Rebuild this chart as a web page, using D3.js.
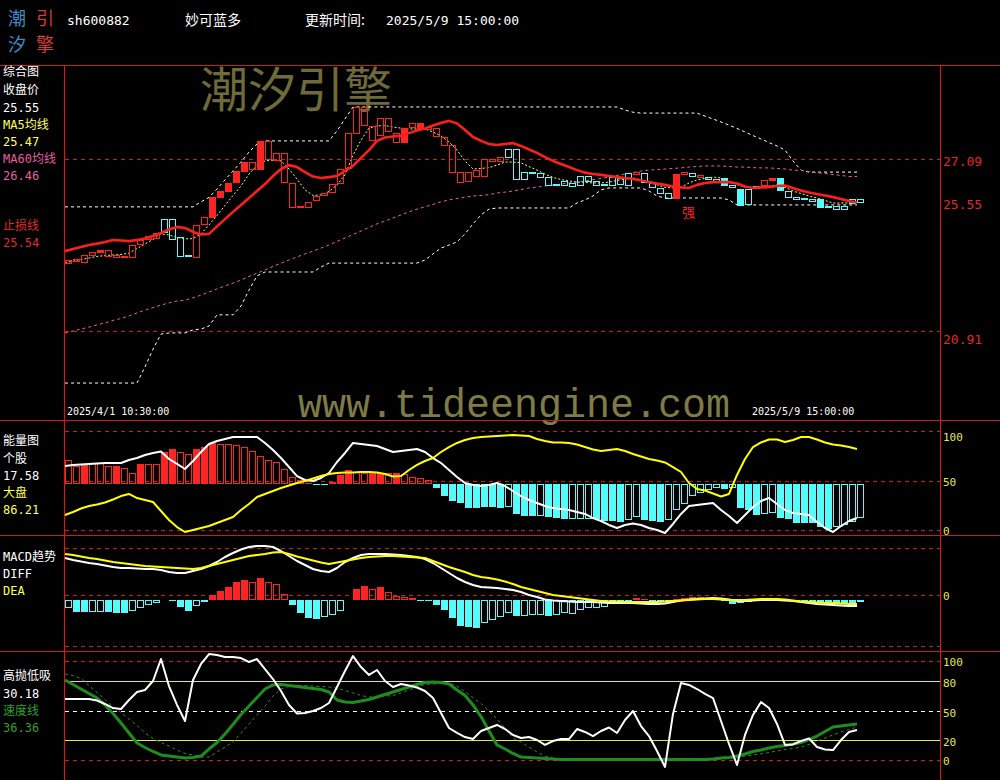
<!DOCTYPE html>
<html><head><meta charset="utf-8">
<script src="https://cdn.jsdelivr.net/npm/d3@7"></script>
<style>html,body{margin:0;padding:0;background:#000;overflow:hidden}</style>
</head><body>
<script>
// ================= DATA =================
const N = 100;
const stockCode = "sh600882", stockName = "妙可蓝多", updateTime = "2025/5/9 15:00:00";
const startLabel = "2025/4/1 10:30:00", endLabel = "2025/5/9 15:00:00";
const priceTicks = [27.09, 20.91];
const lastClose = 25.55, lastMA5 = 25.47, lastMA60 = 26.46, lastStop = 25.54;
const energyStockLast = 17.58, energyMarketLast = 86.21;
const hlLast = 30.18, speedLast = 36.36;

// candle body: open / close, type R=red hollow r=red solid C=cyan hollow c=cyan solid
const open = [23.35,23.43,23.39,23.64,23.75,23.60,23.57,23.57,23.57,24.04,
 24.22,24.25,24.93,24.93,24.29,23.64,23.57,24.76,25.01,25.72,
 25.94,26.26,26.66,26.73,26.73,27.09,27.05,26.26,25.37,25.37,
 25.37,25.62,25.80,25.90,26.23,26.77,28.02,28.31,27.77,27.95,
 28.09,27.70,27.70,28.24,28.17,28.17,27.92,27.59,26.62,26.26,
 26.30,26.48,26.48,27.02,27.02,27.45,27.45,26.62,26.62,26.59,
 26.44,26.19,26.30,26.23,26.48,26.48,26.30,26.19,26.44,26.41,
 26.59,26.55,26.59,26.23,26.05,25.87,25.69,26.55,26.59,26.44,
 26.44,26.37,26.41,26.16,26.01,26.01,26.12,26.16,26.34,26.41,
 25.94,25.72,25.69,25.65,25.65,25.40,25.40,25.40,25.65,25.65];
const close = [23.46,23.50,23.64,23.75,23.82,23.82,23.64,23.60,24.00,24.18,
 24.32,24.43,24.47,24.22,23.60,23.60,24.72,25.01,25.72,25.94,
 26.23,26.66,26.98,26.98,27.74,27.74,27.31,27.31,26.23,25.40,
 25.55,25.76,25.87,26.19,26.73,28.02,28.96,28.96,28.27,28.56,
 28.56,28.02,28.20,28.38,28.38,28.24,28.20,27.88,27.59,26.62,
 26.62,26.69,27.09,27.09,27.16,27.16,26.37,26.37,26.59,26.44,
 26.16,26.16,26.16,26.12,26.16,26.30,26.16,26.16,26.16,26.19,
 26.16,26.62,26.26,26.08,25.87,25.69,26.55,26.62,26.48,26.52,
 26.37,26.30,26.16,26.08,25.44,25.47,26.05,26.34,26.41,25.98,
 25.72,25.65,25.65,25.58,25.37,25.37,25.29,25.29,25.51,25.55];
const candleType = "RRRRrRRRRR"+"RRCCCCRRrr"+"rrrRrRRRRR"+"RRRRRRRRRR"+"RRrRrRRRRR"+
                   "RRRRRCCCCC"+"CCCCCCCCCC"+"CRCCCCrRCR"+"CCcCcCCRrc"+"CCCCcCCCCC";

const stopLine = [23.78,23.86,23.93,24.00,24.05,24.11,24.18,24.16,24.14,24.18,
 24.23,24.32,24.43,24.56,24.65,24.61,24.47,24.38,24.40,24.67,
 24.93,25.19,25.44,25.69,25.94,26.19,26.48,26.73,26.87,26.80,
 26.62,26.46,26.41,26.44,26.48,26.66,26.84,27.13,27.41,27.74,
 27.86,27.90,27.93,28.02,28.11,28.19,28.29,28.38,28.46,28.37,
 28.13,27.88,27.74,27.63,27.59,27.63,27.66,27.56,27.43,27.31,
 27.16,27.02,26.91,26.80,26.69,26.60,26.55,26.52,26.48,26.44,
 26.41,26.37,26.32,26.26,26.21,26.16,26.10,26.07,26.05,26.16,
 26.23,26.26,26.26,26.26,26.21,26.10,26.05,26.07,26.08,26.12,
 26.14,26.05,25.96,25.89,25.83,25.78,25.72,25.65,25.58,25.53];
const ma5 = [23.35,23.43,23.48,23.53,23.59,23.62,23.64,23.66,23.71,23.87,
 24.04,24.20,24.40,24.36,24.27,24.22,24.23,24.40,24.72,25.06,
 25.42,25.78,26.12,26.55,26.86,27.02,27.05,27.02,26.73,26.37,
 25.98,25.78,25.80,25.92,26.16,26.52,27.23,27.77,28.20,28.28,
 28.29,28.24,28.20,28.17,28.17,28.17,28.06,27.92,27.70,27.41,
 27.02,26.73,26.75,26.78,26.87,26.98,26.98,26.95,26.82,26.69,
 26.55,26.43,26.35,26.30,26.26,26.25,26.23,26.23,26.26,26.32,
 26.37,26.41,26.34,26.26,26.16,26.07,26.05,26.08,26.23,26.34,
 26.39,26.44,26.41,26.30,26.17,26.08,26.07,26.08,26.12,26.16,
 26.07,25.94,25.85,25.76,25.69,25.60,25.51,25.51,25.51,25.47];
const ma60 = [20.84,20.91,20.98,21.05,21.13,21.20,21.29,21.36,21.45,21.56,
 21.66,21.75,21.84,21.92,21.99,22.02,22.10,22.20,22.31,22.42,
 22.53,22.63,22.74,22.87,22.99,23.10,23.23,23.35,23.46,23.57,
 23.68,23.78,23.89,24.00,24.13,24.25,24.38,24.50,24.63,24.76,
 24.86,24.97,25.08,25.19,25.29,25.37,25.46,25.55,25.62,25.67,
 25.72,25.76,25.78,25.81,25.87,25.90,25.94,25.99,26.05,26.08,
 26.12,26.16,26.19,26.23,26.26,26.30,26.35,26.39,26.44,26.50,
 26.55,26.60,26.66,26.69,26.71,26.73,26.75,26.77,26.80,26.82,
 26.84,26.84,26.84,26.82,26.80,26.80,26.78,26.77,26.77,26.75,
 26.73,26.69,26.68,26.64,26.60,26.57,26.53,26.50,26.46,26.46];
const bandUp = [25.37,25.37,25.37,25.37,25.37,25.37,25.37,25.37,25.37,25.37,
 25.37,25.37,25.37,25.37,25.37,25.37,25.37,25.55,25.71,26.01,
 26.34,26.66,26.98,27.34,27.63,27.74,27.74,27.74,27.74,27.74,
 27.74,27.74,27.74,27.74,28.10,28.53,28.96,28.96,28.96,28.96,
 28.96,28.96,28.96,28.96,28.96,28.96,28.96,28.96,28.96,28.96,
 28.96,28.96,28.96,28.96,28.96,28.96,28.96,28.96,28.96,28.96,
 28.96,28.96,28.96,28.96,28.96,28.96,28.96,28.96,28.96,28.96,
 28.85,28.77,28.74,28.74,28.74,28.74,28.74,28.74,28.74,28.74,
 28.63,28.53,28.42,28.31,28.19,28.06,27.93,27.81,27.68,27.56,
 27.41,27.02,26.69,26.62,26.62,26.62,26.62,26.62,26.62,26.62];
const bandDn = [19.04,19.04,19.04,19.04,19.04,19.04,19.04,19.04,19.04,19.04,
 19.62,20.26,20.80,20.84,20.84,20.84,20.95,20.98,21.09,21.49,
 21.49,21.49,21.81,22.38,22.89,23.03,23.03,23.03,23.03,23.03,
 23.03,23.03,23.21,23.35,23.35,23.35,23.35,23.35,23.35,23.35,
 23.35,23.35,23.35,23.35,23.35,23.46,23.68,23.89,24.00,24.11,
 24.40,24.76,25.08,25.29,25.33,25.33,25.33,25.33,25.33,25.33,
 25.33,25.33,25.33,25.33,25.51,25.62,25.76,25.98,26.05,26.05,
 26.05,26.05,26.05,25.94,25.76,25.69,25.69,25.69,25.69,25.69,
 25.69,25.69,25.69,25.62,25.44,25.44,25.44,25.44,25.44,25.44,
 25.44,25.44,25.44,25.44,25.44,25.44,25.44,25.44,25.44,25.44];

// energy panel (0-100 scale), bars signed around a base level
const energyTicks = [100, 50, 0];
const energyBase = 46;
const energyBar = [24.7,18.7,19.7,21.7,21.7,18.7,18.7,16.7,11.6,20.7,
 20.7,20.7,32.8,35.9,32.8,30.8,35.9,37.9,41.9,40.9,
 40.9,39.9,37.9,33.8,28.8,24.7,22.7,15.7,7.6,4.5,
 1.5,-1,-1,2.5,9.6,14.6,12.6,11.6,12.6,11.6,
 11.6,11.6,10.6,7.6,6.6,4.5,-3.5,-11.6,-16.7,-18.7,
 -23.7,-23.7,-23.2,-22.7,-23.7,-22.7,-29.8,-31.8,-31.8,-31.8,
 -32.8,-33.8,-34.8,-34.8,-34.8,-34.8,-34.8,-36.9,-36.9,-37.9,
 -35.9,-32.8,-35.9,-36.9,-37.9,-35.9,-25.8,-19.7,-11.6,-8.6,
 -5.6,-3.5,-4.5,-3.5,-23.7,-25.8,-30.8,-29.8,-28.8,-33.8,
 -34.8,-38.9,-38.9,-38.9,-42.9,-44.9,-42.9,-40.9,-37.9,-33.8];
const energyFill = "HHSHHHSHHS"+"HHSSHHSSSH"+"HHHHHHHHHH"+"SSSSSSHHSS"+"HSHHHHSSSS"+
                   "SSSSSHSSSH"+"SSSHHHSSSS"+"HHSSSHHHHH"+"HHSHSSSHHS"+"SSSSSSHHHH";
const energyStock = [64.6,65.7,66.2,66.7,67.2,67.7,67.7,67.7,70.7,72.7,
 75.8,77.8,79.3,71.7,66.7,61.6,69.7,78.8,86.9,89.9,
 91.9,93.9,93.9,93.9,93.9,87.9,80.8,72.7,63.6,54.5,
 50.5,49.5,52.5,57.6,68.7,77.8,87.9,86.9,85.9,84.8,
 81.8,78.8,79.8,80.8,81.8,78.8,72.7,67.7,60.6,53.5,
 47.5,45.5,44.4,45.5,47.5,44.4,39.4,34.3,30.3,27.3,
 24.2,22.2,21.2,20.2,18.2,16.2,12.1,9.1,5.1,2.0,
 5.1,6.6,5.1,2.0,0,-3,6.1,16.2,24.2,25.3,
 26.3,27.3,20.2,14.1,7.1,15.2,23.2,29.3,32.3,26.3,
 20.2,17.2,16.2,15.2,8.1,2.0,-2,4.0,9.1,12.1];
const energyMarket = [15.2,18.2,21.7,24.2,25.8,27.8,30.8,34.3,36.4,32.3,
 30.3,28.3,19.2,10.1,3.0,-2.0,0,2.0,4.0,7.1,
 10.1,13.1,20.2,26.3,33.3,36.4,39.4,42.4,44.9,47.5,
 49.5,52.0,54.5,56.6,57.6,58.1,58.1,58.6,58.6,58.1,
 56.6,54.0,54.5,60.6,65.7,69.7,72.7,78.8,83.8,87.9,
 90.9,92.9,93.9,94.4,94.9,95.4,96.0,95.4,94.9,91.9,
 89.9,88.4,88.4,87.9,86.4,83.8,81.3,79.8,80.8,81.8,
 79.8,76.8,74.2,71.7,70.2,68.2,63.6,58.6,47.5,41.4,
 39.9,36.9,33.8,36.4,55.6,71.7,83.8,88.4,91.4,91.4,
 88.9,90.9,93.9,93.9,91.4,88.4,86.4,85.3,83.8,81.8];

// MACD panel
const macdHist = [-0.16,-0.24,-0.24,-0.24,-0.24,-0.24,-0.26,-0.26,-0.22,-0.16,
 -0.10,-0.06,0,-0.02,-0.14,-0.22,-0.12,-0.04,0.10,0.18,
 0.26,0.36,0.40,0.36,0.44,0.36,0.32,0.12,-0.10,-0.26,
 -0.36,-0.38,-0.34,-0.30,-0.22,0,0.22,0.28,0.22,0.26,
 0.16,0.08,0.06,0.04,-0.01,-0.02,-0.10,-0.20,-0.36,-0.52,
 -0.54,-0.56,-0.46,-0.40,-0.34,-0.26,-0.32,-0.32,-0.30,-0.30,
 -0.32,-0.30,-0.26,-0.28,-0.20,-0.16,-0.16,-0.14,-0.06,-0.04,
 -0.02,0.04,0.02,-0.03,-0.03,-0.02,0.03,0.05,0.06,0.06,
 0.05,0.04,-0.02,-0.08,-0.05,-0.03,-0.02,-0.02,-0.02,-0.02,
 -0.01,-0.01,-0.02,-0.03,-0.04,-0.06,-0.06,-0.06,-0.05,-0.04];
const macdFill = "HSSHHSSSHH"+"HHSSSSHSSS"+"SSSHSHHHSS"+"SSHHHSSSHS"+"HHHSSSSSSS"+
                 "SSHHHHSHHH"+"SHHHHHHHSS"+"SSSSSSSSSS"+"SSSSSSSSSS"+"SSSSSSSSSS";
const diff = [0.84,0.80,0.77,0.74,0.72,0.69,0.66,0.64,0.64,0.63,
 0.62,0.62,0.60,0.56,0.54,0.54,0.58,0.62,0.68,0.76,
 0.86,0.94,1.01,1.06,1.08,1.08,1.06,0.98,0.88,0.78,
 0.70,0.62,0.58,0.56,0.64,0.76,0.84,0.90,0.92,0.92,
 0.92,0.91,0.90,0.88,0.86,0.82,0.74,0.64,0.54,0.44,
 0.36,0.30,0.26,0.25,0.24,0.22,0.20,0.16,0.10,0.06,
 0.01,-0.01,-0.02,-0.03,-0.04,-0.04,-0.04,-0.05,-0.06,-0.06,
 -0.06,-0.06,-0.07,-0.08,-0.08,-0.07,-0.04,-0.01,0.01,0.02,
 0.03,0.04,0.03,0.01,-0.02,-0.02,-0.01,0,0,0,
 -0.01,-0.02,-0.04,-0.06,-0.08,-0.09,-0.10,-0.11,-0.12,-0.12];
const dea = [0.92,0.90,0.87,0.84,0.82,0.79,0.76,0.74,0.72,0.70,
 0.68,0.67,0.66,0.65,0.64,0.63,0.62,0.64,0.68,0.72,
 0.76,0.80,0.84,0.88,0.90,0.92,0.95,0.96,0.92,0.87,
 0.83,0.79,0.75,0.72,0.75,0.78,0.81,0.84,0.86,0.87,
 0.88,0.88,0.87,0.86,0.85,0.84,0.78,0.72,0.66,0.61,
 0.56,0.50,0.46,0.44,0.41,0.37,0.32,0.26,0.22,0.18,
 0.14,0.10,0.08,0.06,0.04,0.02,0,-0.02,-0.03,-0.03,
 -0.04,-0.04,-0.04,-0.04,-0.04,-0.03,-0.02,-0.01,0,0.01,
 0.02,0.02,0.01,0,0,0,0.01,0.02,0.02,0.02,
 0.01,-0.01,-0.03,-0.04,-0.05,-0.06,-0.06,-0.07,-0.08,-0.08];

// 高抛低吸 panel (0-100)
const hlTicks = [100, 80, 50, 20, 0];
const hlWhite = [61.6,61.6,61.6,61.6,60.1,56.6,52.5,51.5,60.6,68.7,
 70.7,79.8,102,74.7,55.6,39.4,80.8,97,107,106,
 104,104,103,99,102,91.9,81.8,69.7,55.6,47,
 47.5,49.5,52.5,57.6,73.7,89.9,105,93.9,85.9,90.9,
 79.8,73.7,76.8,75.2,73.2,69.7,62.6,47.5,32.3,27.3,
 23.2,21.2,29.3,32.3,35.4,31.3,25.3,22.2,23.2,20.2,
 15.2,19.2,21.2,21.2,31.3,28.3,24.2,29.3,32.8,27.3,
 40.4,49.5,34.3,24.2,9.1,-7,46.5,77.8,75.8,71.7,
 66.7,62.6,39.4,16.2,-5,25.3,45.5,58.6,52.5,36.4,
 15.2,15.7,19.2,21.7,13.1,10.6,10.1,20.2,28.3,30.3];
const hlSpeed = [80.8,76.3,71.7,67.2,62.6,55.6,47.0,37.4,27.3,17.2,
 12.6,8.6,5.1,4.0,3.0,2.0,2.5,4.0,11.1,17.7,
 26.3,35.9,46.0,54.5,63.1,71.7,75.8,76.3,75.3,74.2,
 73.2,72.2,71.2,68.7,60.6,58.6,58.1,59.6,61.1,63.6,
 66.2,68.7,71.2,73.7,76.3,78.3,78.8,78.3,76.8,70.7,
 65.1,55.6,43.9,29.3,15.2,11.1,6.6,3.0,2.5,2.0,
 1.5,1.0,0.5,0.5,0.5,0.5,0.5,0.5,0.5,0.5,
 0.5,0.5,0.5,0.5,0.5,0.5,0.5,0.5,0.5,0.5,
 0.5,1.0,2.0,2.5,4.0,6.1,8.6,10.1,12.1,13.6,
 14.6,16.2,17.7,20.7,24.2,28.8,33.3,34.3,35.4,36.4];
const hlSlow = [86.9,85.3,82.3,75.2,68.2,61.1,53.5,48.0,41.4,34.8,
 27.3,21.7,17.7,14.1,10.1,6.6,5.1,3.0,3.0,8.1,
 13.1,18.2,27.3,36.4,45.5,54.5,64.6,71.7,74.2,75.2,
 75.2,74.7,74.2,73.7,72.7,70.2,67.7,65.1,63.6,64.1,
 64.6,65.1,67.7,70.7,73.7,76.3,76.8,77.3,77.8,74.7,
 68.7,63.1,57.1,49.5,41.4,32.3,22.2,18.2,13.1,8.1,
 4.0,2.0,0.5,0.5,0.5,0.5,0.5,0.5,0.5,0.5,
 0.5,0.5,0.5,0.5,0.5,0.5,0.5,0.5,0.5,0.5,
 0.5,0.5,1.0,1.5,2.5,4.0,5.1,6.1,7.6,9.1,
 10.6,11.6,13.1,15.7,19.2,22.2,25.3,28.3,30.8,33.3];

// ================= DRAW =================
const RED = "#ff2424", CYAN = "#54fcfc", YEL = "#ffff54", WHITE = "#ffffff",
      GRID = "#c81e1e", FRAME = "#c81e1e", PINK = "#e65fa0";
const MONO = '"DejaVu Sans Mono","Liberation Mono",monospace';
const CJK = '"Noto Sans CJK SC","DejaVu Sans",sans-serif';

const svg = d3.select("body").append("svg").attr("width", 1000).attr("height", 780);
svg.append("rect").attr("width", 1000).attr("height", 780).attr("fill", "#000");

const x = d3.scaleBand().domain(d3.range(N)).range([64.2, 864.2]).paddingInner(0.2).paddingOuter(0.1);
const lx = i => x(i);                 // line vertices sit at bar left edge
const yP = d3.scaleLinear().domain([20.91, 27.09]).range([331, 159]);
const yE = d3.scaleLinear().domain([0, 100]).range([530, 431]);
const yM = d3.scaleLinear().domain([-1, 1]).range([650, 550]);
const yH = d3.scaleLinear().domain([0, 100]).range([760, 661]);

function text(g, x0, y0, s, color, size, family, extra) {
  const t = g.append("text").attr("x", x0).attr("y", y0).attr("fill", color)
    .attr("font-size", size).attr("font-family", family).attr("dominant-baseline", "central").text(s);
  if (extra) extra(t);
  return t;
}

// watermarks (behind)
const wm = svg.append("g");
text(wm, 200, 86, "潮汐引擎", "#6e6a3a", 48, CJK);
text(wm, 298, 406, "www.tideengine.com", "#7f7b45", 40, '"Liberation Mono","DejaVu Sans Mono",monospace');

// frame
const fr = svg.append("g").attr("stroke", FRAME).attr("stroke-width", 1.2);
[65.5, 420.5, 535.5, 651.5].forEach(yy => fr.append("line").attr("x1", 0).attr("x2", 1000).attr("y1", yy).attr("y2", yy));
[64.5, 940.5].forEach(xx => fr.append("line").attr("x1", xx).attr("x2", xx).attr("y1", 65).attr("y2", 780));

function hline(yy, color, dash, w) {
  svg.append("line").attr("x1", 65).attr("x2", 940).attr("y1", Math.round(yy) + 0.5).attr("y2", Math.round(yy) + 0.5)
    .attr("stroke", color).attr("stroke-width", w || 1).attr("stroke-dasharray", dash || null);
}
// grids
priceTicks.forEach(p => hline(yP(p), GRID, "4,4"));
energyTicks.forEach(v => hline(yE(v), GRID, "4,4"));
[548, 595, 646].forEach(yy => hline(yy, GRID, "4,4"));
hlTicks.forEach(v => {
  if (v === 100 || v === 0) hline(yH(v), GRID, "4,4");
  else if (v === 50) hline(yH(v), WHITE, "4,4");
  else hline(yH(v), "#e6e65a", null, 1);
});

function path(data, ys, color, width, dash) {
  const ln = d3.line().defined(d => d != null).x((d, i) => lx(i)).y(d => ys(d));
  svg.append("path").attr("d", ln(data)).attr("fill", "none").attr("stroke", color)
    .attr("stroke-width", width).attr("stroke-dasharray", dash || null).attr("stroke-linejoin", "round");
}
// dashed reference lines under the candles
path(bandUp, yP, WHITE, 1, "3,3");
path(bandDn, yP, WHITE, 1, "3,3");
path(ma60, yP, PINK, 1, "3,3");
path(ma5, yP, YEL, 1, "2,2");

// candles
const cg = svg.append("g").attr("shape-rendering", "crispEdges");
d3.range(N).forEach(i => {
  const t = candleType[i], red = (t === "R" || t === "r"), solid = (t === "r" || t === "c");
  const col = red ? RED : CYAN;
  const top = Math.round(yP(Math.max(open[i], close[i]))), bot = Math.round(yP(Math.min(open[i], close[i])));
  const xl = Math.floor(x(i));
  if (solid || bot - top < 2) {
    cg.append("rect").attr("x", xl).attr("y", top).attr("width", 7)
      .attr("height", Math.max(1, bot - top + 1)).attr("fill", col);
  } else {
    cg.append("rect").attr("x", xl).attr("y", top).attr("width", 7).attr("height", 1).attr("fill", col);
    cg.append("rect").attr("x", xl).attr("y", bot).attr("width", 7).attr("height", 1).attr("fill", col);
    cg.append("rect").attr("x", xl).attr("y", top).attr("width", 1).attr("height", bot - top + 1).attr("fill", col);
    cg.append("rect").attr("x", xl + 6).attr("y", top).attr("width", 1).attr("height", bot - top + 1).attr("fill", col);
  }
});

path(stopLine, yP, "#ff1e1e", 2.6);

// "强" mark
text(svg, 682, 211, "强", RED, 13, CJK);

// bars helper
function bars(vals, fills, base, ys) {
  const g = svg.append("g").attr("shape-rendering", "crispEdges");
  vals.forEach((v, i) => {
    if (v === 0) return;
    const col = v > 0 ? RED : CYAN, solid = fills[i] === "S";
    const a = Math.round(ys(base)), b = Math.round(ys(base + v));
    const top = Math.min(a, b), bot = Math.max(a, b);
    const xl = Math.floor(x(i));
    if (solid || bot - top < 2) {
      g.append("rect").attr("x", xl).attr("y", top).attr("width", 7).attr("height", Math.max(1, bot - top)).attr("fill", col);
    } else {
      g.append("rect").attr("x", xl + 0.5).attr("y", top + 0.5).attr("width", 6).attr("height", bot - top - 1)
        .attr("fill", "none").attr("stroke", col);
    }
  });
}
bars(energyBar, energyFill, energyBase, yE);
path(energyStock, yE, WHITE, 2);
path(energyMarket, yE, "#ffff00", 2);

bars(macdHist, macdFill, 0, yM);
path(diff, yM, WHITE, 2);
path(dea, yM, "#ffff00", 2);

path(hlSlow, yH, "#2e8b2e", 1, "3,3");
path(hlSpeed, yH, "#1e8c1e", 3);
path(hlWhite, yH, WHITE, 2);

// date labels
text(svg, 67, 411, startLabel, WHITE, 10, MONO);
text(svg, 752, 411, endLabel, WHITE, 10, MONO);

// right labels
const rl = svg.append("g");
text(rl, 943, 161, priceTicks[0].toFixed(2), "#e02828", 13, MONO);
text(rl, 943, 204, lastClose.toFixed(2), "#e02828", 13, MONO);
text(rl, 943, 339, priceTicks[1].toFixed(2), "#e02828", 13, MONO);
[[100, 437], [50, 482], [0, 531]].forEach(([v, yy]) => text(rl, 943, yy, String(v), "#e6e650", 11, MONO));
text(rl, 943, 596, "0", "#e6e650", 11, MONO);
[[100, 662], [80, 683], [50, 713], [20, 742], [0, 761]].forEach(([v, yy]) => text(rl, 943, yy, String(v), "#e6e650", 11, MONO));

// left labels
const ll = svg.append("g");
const LF = '"DejaVu Sans Mono","Noto Sans CJK SC",monospace';
[["综合图", 72, WHITE], ["收盘价", 90, WHITE], [lastClose.toFixed(2), 108, WHITE],
 ["MA5均线", 125, YEL], [lastMA5.toFixed(2), 142, YEL],
 ["MA60均线", 159, PINK], [lastMA60.toFixed(2), 176, PINK],
 ["止损线", 226, "#e02828"], [lastStop.toFixed(2), 243, "#e02828"],
 ["能量图", 441, WHITE], ["个股", 459, WHITE], [energyStockLast.toFixed(2), 476, WHITE],
 ["大盘", 493, YEL], [energyMarketLast.toFixed(2), 510, YEL],
 ["MACD趋势", 557, WHITE], ["DIFF", 574, WHITE], ["DEA", 591, YEL],
 ["高抛低吸", 676, WHITE], [hlLast.toFixed(2), 694, WHITE],
 ["速度线", 711, "#2ea02e"], [speedLast.toFixed(2), 728, "#2ea02e"]]
 .forEach(([s, yy, c]) => text(ll, 3, yy, s, c, 12, LF));

// header logo + texts
const hd = svg.append("g");
text(hd, 17, 17, "潮", "#3c8cc8", 18, CJK, t => t.attr("text-anchor", "middle"));
text(hd, 45, 17, "引", "#d23c3c", 18, CJK, t => t.attr("text-anchor", "middle"));
text(hd, 17, 43, "汐", "#3c8cc8", 18, CJK, t => t.attr("text-anchor", "middle"));
text(hd, 45, 43, "擎", "#d23c3c", 18, CJK, t => t.attr("text-anchor", "middle"));
text(hd, 67, 20, stockCode, WHITE, 13, MONO);
text(hd, 185, 19, stockName, WHITE, 14, CJK);
text(hd, 305, 19, "更新时间:", WHITE, 14, CJK);
text(hd, 386, 20, updateTime, WHITE, 13, MONO);
</script>
</body></html>
